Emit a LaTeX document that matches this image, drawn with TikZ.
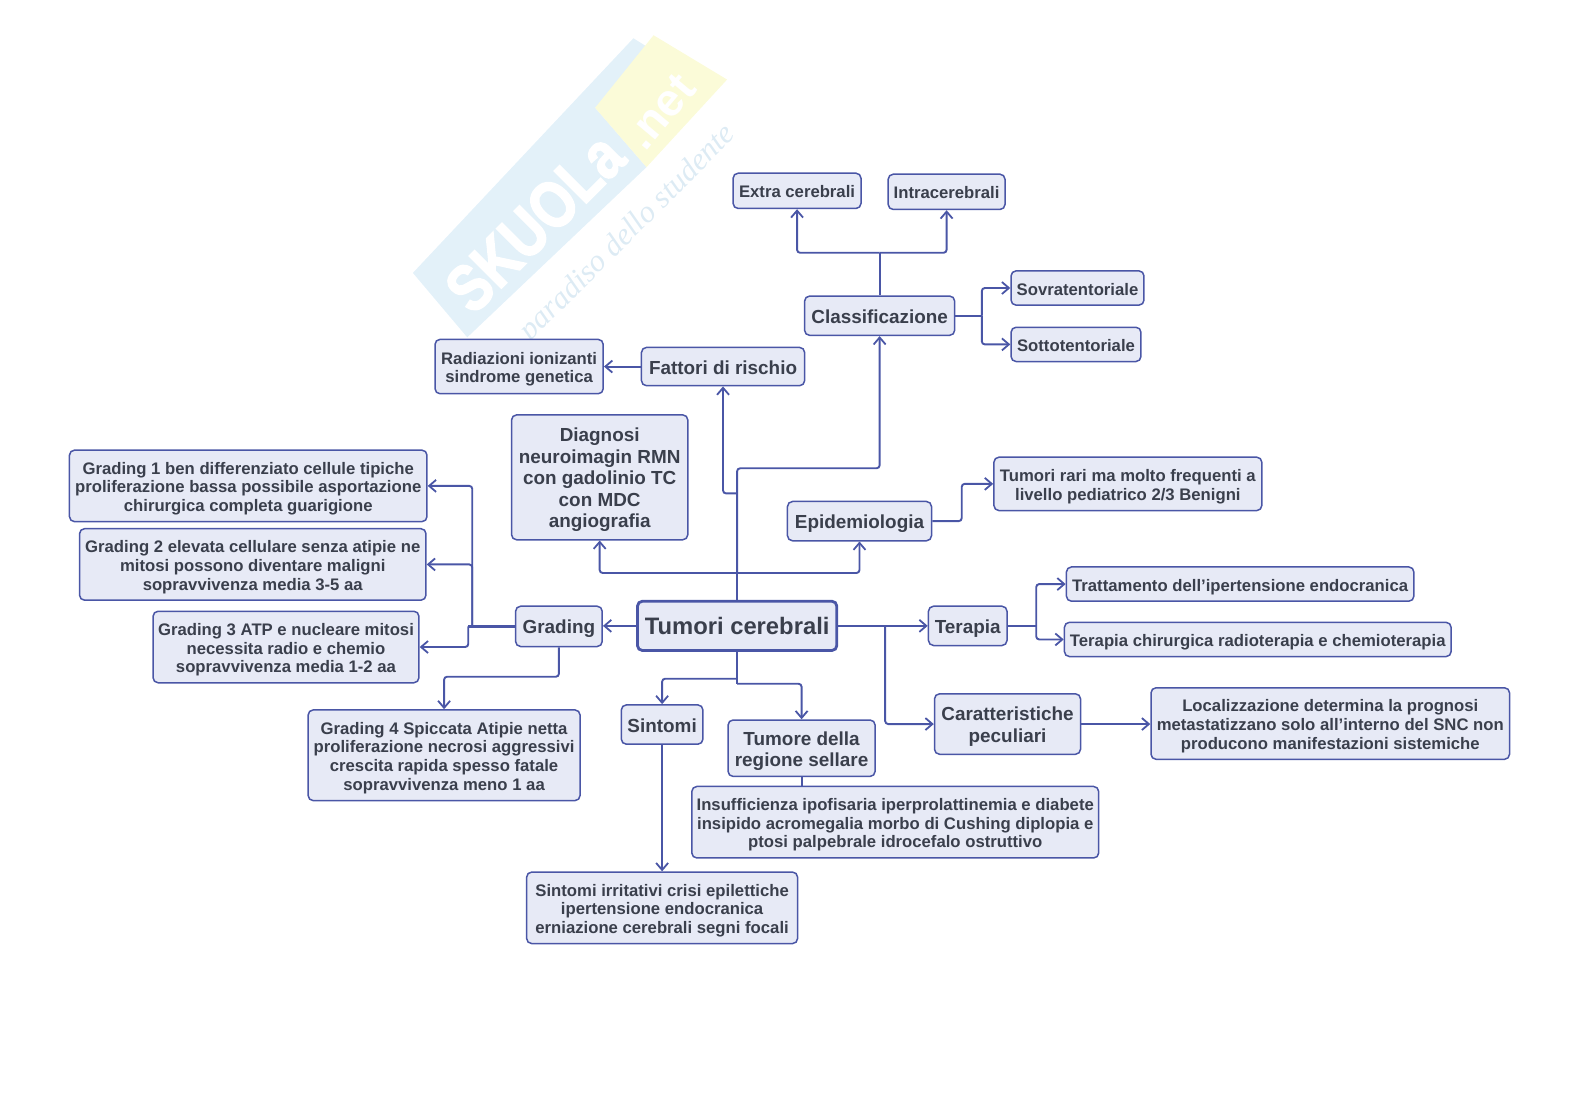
\documentclass[tikz,border=0pt]{standalone}
\usepackage{fontspec}
\setmainfont{Liberation Sans}
\newfontfamily\wmheavy[FakeBold=2.5]{Liberation Sans Bold}
\newfontfamily\wmscript{Liberation Serif}
\usetikzlibrary{arrows.meta,calc}
\definecolor{bd}{HTML}{4A56A6}
\definecolor{fl}{HTML}{E7EAF6}
\definecolor{tx}{HTML}{3A3F4C}
\definecolor{wmb}{HTML}{E3F1F9}
\definecolor{wmy}{HTML}{FBFBD8}
\definecolor{wmt}{HTML}{FFFFFF}
\definecolor{wms}{HTML}{DDEBF4}
\tikzset{
 box/.style={draw=bd,fill=fl,rounded corners=5pt,line width=1.5pt,align=center,text=tx,inner sep=0pt,font=\fontsize{16.7}{18.7}\selectfont\bfseries},
 big/.style={box,font=\fontsize{18.9}{21.5}\selectfont\bfseries},
 root/.style={box,line width=2.8pt,font=\fontsize{23.8}{26}\selectfont\bfseries},
 conn/.style={draw=bd,line width=1.9pt,rounded corners=3pt},
 arr/.style={conn,-{Straight Barb[length=7pt,width=12pt,line width=1.8pt]}},
 thick conn/.style={conn,line width=2.7pt},
}
% box from corners: name, style, x1,y1,x2,y2, text
\newcommand{\bx}[7]{\node[#2,minimum width=#5pt*1.007-#3pt*1.007,minimum height=#6pt*1.007-#4pt*1.007] (#1) at ({(#3+#5)/2},{(#4+#6)/2}) {\raisebox{-3.3pt}[\height][\depth]{\begin{tabular}{@{}c@{}}#7\end{tabular}}};}
\begin{document}
\begin{tikzpicture}[x=1.007pt,y=-1.007pt]
\useasboundingbox (0,0) rectangle (1568,1108);
% watermark
\fill[wmb] (410,271) -- (629,38) -- (645,48) -- (591,107) -- (642,166) -- (464,335) -- cycle;
\fill[wmy] (591,107) -- (649,35) -- (722,79) -- (642,166) -- cycle;
\node[rotate=45,xscale=0.82,text=wmt,font=\fontsize{66}{66}\selectfont\wmheavy,inner sep=0pt] (wm1) at (531,221) {SKUOLa};
\node[rotate=50,text=wmt,font=\fontsize{46}{46}\selectfont\bfseries,inner sep=0pt] (wm2) at (656,111) {.net};
\node[rotate=45,text=wms,font=\fontsize{31}{31}\selectfont\wmscript\itshape,inner sep=0pt] (wm3) at (624,232) {paradiso dello studente};
% nodes
\bx{extra}{box}{728}{172}{855}{207}{Extra cerebrali}
\bx{intra}{box}{882}{173}{998}{208}{Intracerebrali}
\bx{clas}{big}{799}{294}{948}{333}{Classificazione}
\bx{sovra}{box}{1004}{269}{1136}{303}{Sovratentoriale}
\bx{sotto}{box}{1004}{325}{1133}{359}{Sottotentoriale}
\bx{fatt}{big}{637}{345}{799}{383}{Fattori di rischio}
\bx{radi}{box}{432}{337}{599}{391}{Radiazioni ionizanti\\sindrome genetica}
\bx{diag}{big}{508}{412}{683}{536}{Diagnosi\\neuroimagin RMN\\con gadolinio TC\\con MDC\\angiografia}
\bx{gr1}{box}{69}{447}{424}{518}{Grading 1 ben differenziato cellule tipiche\\proliferazione bassa possibile asportazione\\chirurgica completa guarigione}
\bx{gr2}{box}{79}{525}{423}{596}{Grading 2 elevata cellulare senza atipie ne\\mitosi possono diventare maligni\\sopravvivenza media 3-5 aa}
\bx{gr3}{box}{152}{607}{416}{678}{Grading 3 ATP e nucleare mitosi\\necessita radio e chemio\\sopravvivenza media 1-2 aa}
\bx{gr4}{box}{306}{705}{576}{795}{Grading 4 Spiccata Atipie netta\\proliferazione necrosi aggressivi\\crescita rapida spesso fatale\\sopravvivenza meno 1 aa}
\bx{grad}{big}{512}{602}{598}{642}{Grading}
\bx{tum}{root}{633}{597}{831}{646}{Tumori cerebrali}
\bx{epid}{big}{782}{498}{925}{537}{Epidemiologia}
\bx{rari}{box}{987}{454}{1253}{507}{Tumori rari ma molto frequenti a\\livello pediatrico 2/3 Benigni}
\bx{tera}{big}{922}{602}{1000}{641}{Terapia}
\bx{trat}{box}{1059}{563}{1404}{597}{Trattamento dell'ipertensione endocranica}
\bx{chir}{box}{1057}{618}{1441}{652}{Terapia chirurgica radioterapia e chemioterapia}
\bx{cara}{big}{928}{689}{1073}{749}{Caratteristiche\\peculiari}
\bx{loca}{box}{1143}{683}{1499}{754}{Localizzazione determina la prognosi\\metastatizzano solo all'interno del SNC non\\producono manifestazioni sistemiche}
\bx{sint}{big}{617}{700}{698}{739}{Sintomi}
\bx{sell}{big}{723}{715}{869}{771}{Tumore della\\regione sellare}
\bx{insu}{box}{687}{781}{1091}{852}{Insufficienza ipofisaria iperprolattinemia e diabete\\insipido acromegalia morbo di Cushing diplopia e\\ptosi palpebrale idrocefalo ostruttivo}
\bx{irri}{box}{523}{866}{792}{937}{Sintomi irritativi crisi epilettiche\\ipertensione endocranica\\erniazione cerebrali segni focali}
% junctions
\coordinate (ja) at (tum.north|-0,465);
\coordinate (jb) at (tum.north|-0,490);
\coordinate (jc) at (tum.north|-0,569);
\coordinate (jd) at (clas.north|-0,251);
\coordinate (je) at (975,0|-clas.east);
\coordinate (jf) at (469,0|-grad.west);
\coordinate (jg) at (465,0|-grad.west);
\coordinate (jh) at (grad.south|-0,672);
\coordinate (ji) at (879,0|-tum.east);
\coordinate (jj) at (1029,0|-tera.east);
\coordinate (jk) at (955,0|-epid.east);
\coordinate (jl) at (tum.south|-0,674);
\coordinate (jm) at (tum.south|-0,679);
% connectors
\draw[conn] (tum.north) -- (jc);
\draw[arr] (jc) -- (ja) -- (clas.south|-ja) -- (clas.south);
\draw[arr] (jb) -- (fatt.south|-jb) -- (fatt.south);
\draw[arr] (jc) -- (diag.south|-jc) -- (diag.south);
\draw[arr] (jc) -- (epid.south|-jc) -- (epid.south);
\draw[conn] (clas.north) -- (jd);
\draw[arr] (jd) -- (extra.south|-jd) -- (extra.south);
\draw[arr] (jd) -- (intra.south|-jd) -- (intra.south);
\draw[conn] (clas.east) -- (je);
\draw[arr] (je) |- (sovra.west);
\draw[arr] (je) |- (sotto.west);
\draw[arr] (fatt.west) -- (fatt.west-|radi.east);
\draw[thick conn] (grad.west) -- (jg);
\draw[arr] (jf) |- (gr1.east);
\draw[arr] (jf) |- (gr2.east);
\draw[arr] (jg) |- (gr3.east);
\draw[arr] (grad.south) -- (jh) -- (gr4.north|-jh) -- (gr4.north);
\draw[arr,line width=2.5pt] (tum.west) -- (tum.west-|grad.east);
\draw[arr,line width=2.5pt] (tum.east) -- (tum.east-|tera.west);
\draw[arr] (ji) |- (cara.west);
\draw[thick conn] (tera.east) -- (jj);
\draw[arr] (jj) |- (trat.west);
\draw[arr] (jj) |- (chir.west);
\draw[arr] (epid.east) -- (jk) |- (rari.west);
\draw[arr] (cara.east) -- (cara.east-|loca.west);
\draw[conn,line width=2.4pt] (tum.south) -- (jm);
\draw[arr] (jl) -- (sint.north|-jl) -- (sint.north);
\draw[arr] (jm) -- (sell.north|-jm) -- (sell.north);
\draw[arr] (sint.south) -- (sint.south|-irri.north);
\draw[conn] (sell.south) -- (sell.south|-insu.north);
\end{tikzpicture}
\end{document}
